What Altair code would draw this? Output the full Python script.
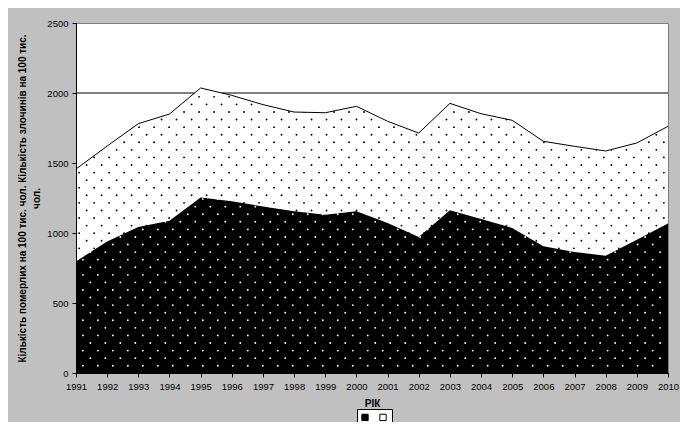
import altair as alt
import pandas as pd

years = list(range(1991, 2011))
top_vals = [1457, 1621, 1781, 1850, 2036, 1983, 1917, 1864, 1859, 1905,
            1798, 1714, 1926, 1852, 1805, 1655, 1619, 1586, 1643, 1762]
bottom_vals = [797, 940, 1043, 1088, 1254, 1226, 1190, 1155, 1131, 1155,
               1071, 971, 1162, 1100, 1036, 905, 864, 838, 952, 1067]
series_names = ["Кількість померлих", "Кількість злочинів"]
y_title = ["Кількість померлих на 100 тис. чол. Кількість злочинів на 100 тис.", "чол."]
x_title = "РІК"
y_ticks = [0, 500, 1000, 1500, 2000, 2500]
grid_value = 2000

df = pd.DataFrame({"year": years, "top": top_vals, "bottom": bottom_vals})
df["series"] = series_names[0]

# gridline segments (hidden where the dotted area rises above the line)
segs = []
start = years[0] if top_vals[0] < grid_value else None
for k in range(len(years) - 1):
    y0, y1 = top_vals[k], top_vals[k + 1]
    if (y0 < grid_value) != (y1 < grid_value):
        xc = years[k] + (grid_value - y0) / (y1 - y0)
        if y0 < grid_value:
            segs.append((start, xc))
            start = None
        else:
            start = xc
if start is not None:
    segs.append((start, years[-1]))
grid_df = pd.DataFrame({"x": [s[0] for s in segs], "x2": [s[1] for s in segs], "g": grid_value})

FONT = "Liberation Sans"
xscale = alt.Scale(domain=[1991, 2010], nice=False, zero=False)
yscale = alt.Scale(domain=[0, 2500], nice=False)

x_axis = alt.Axis(values=years, format="d", title=x_title, labelFontSize=9.5, labelFont=FONT,
                  titleFont=FONT, titleFontSize=10, titleFontWeight="bold", titleY=30,
                  titleBaseline="middle", tickSize=4, labelPadding=4, domainColor="black",
                  tickColor="black", labelColor="black", titleColor="black", grid=False,
                  labelFlush=False, labelOverlap=False, zindex=1)
y_axis = alt.Axis(values=y_ticks, format="d", title=y_title, labelFontSize=9.5,
                  labelFont=FONT, titleFont=FONT, titleFontSize=10, titleFontWeight="bold",
                  titleLineHeight=14, titleX=-54, titleY=175, titleAlign="center",
                  titleBaseline="middle", tickSize=4, labelPadding=4, domainColor="black",
                  tickColor="black", labelColor="black", titleColor="black", grid=False, zindex=1)

base = alt.Chart(df)


def dots(color, dx, dy):
    return (
        alt.Chart(alt.sequence(0, 3680, as_="n"))
        .transform_calculate(i="datum.n % 80", j="floor(datum.n / 80)")
        .transform_filter("(datum.i + datum.j) % 2 == 0")
        .transform_calculate(px=f"1991.1 + {dx} + datum.i * 0.2406",
                             py=f"25 + {dy} + datum.j * 54.1")
        .transform_filter("datum.px < 2009.95 && datum.py < 2445")
        .mark_point(filled=True, shape="circle", size=3.5, color=color, strokeWidth=0, opacity=1)
        .encode(x=alt.X("px:Q", scale=xscale, axis=x_axis),
                y=alt.Y("py:Q", scale=yscale, axis=y_axis))
    )


black_dots = dots("black", 0, 0)
white_dots = dots("white", 0.1203, 27.05)

cover = base.transform_calculate(ceil="2470").mark_area(color="white", opacity=1).encode(
    x=alt.X("year:Q", scale=xscale, axis=x_axis),
    y=alt.Y("top:Q", scale=yscale, axis=y_axis),
    y2="ceil:Q",
)

grid = alt.Chart(grid_df).mark_rule(color="black", strokeWidth=1).encode(
    x=alt.X("x:Q", scale=xscale, axis=x_axis),
    x2="x2:Q",
    y=alt.Y("g:Q", scale=yscale, axis=y_axis),
)

black_area = base.mark_area(opacity=1).encode(
    x=alt.X("year:Q", scale=xscale, axis=x_axis),
    y=alt.Y("bottom:Q", scale=yscale, axis=y_axis),
    color=alt.Color("series:N",
                    scale=alt.Scale(domain=series_names, range=["#000000", "#ffffff"]),
                    legend=alt.Legend(orient="none", legendX=281, legendY=386,
                                      direction="horizontal", title=None, labelExpr="''",
                                      symbolType="square", symbolSize=40,
                                      symbolStrokeColor="black", symbolStrokeWidth=1,
                                      fillColor="white", strokeColor="black", padding=3,
                                      columnPadding=6, labelOffset=0)),
)

top_line = base.mark_line(color="black", strokeWidth=1).encode(
    x=alt.X("year:Q", scale=xscale, axis=x_axis),
    y=alt.Y("top:Q", scale=yscale, axis=y_axis),
)

chart = alt.layer(black_dots, cover, black_area, white_dots, grid, top_line).properties(
    width=592, height=350,
    padding={"left": 68, "top": 15, "right": 12, "bottom": 49},
    autosize=alt.AutoSizeParams(type="none"),
    background="#c0c0c0",
).configure_view(fill="white", stroke="#808080", strokeWidth=1)

chart.save("out.html", embed_options={"renderer": "svg", "actions": False})
